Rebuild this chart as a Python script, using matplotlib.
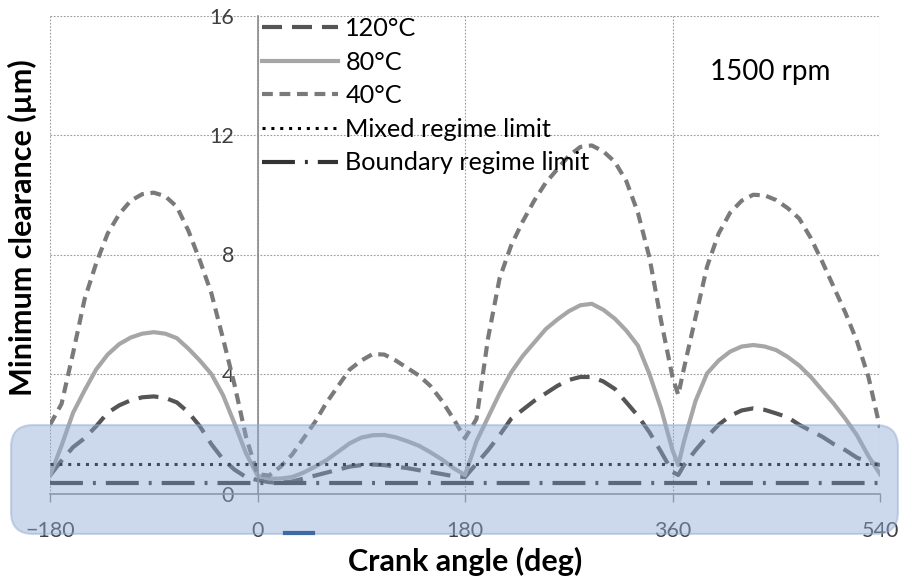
import numpy as np
import matplotlib
matplotlib.use("Agg")
import matplotlib.pyplot as plt
from matplotlib.patches import FancyBboxPatch
from matplotlib.lines import Line2D

plt.rcParams["font.family"] = ["Lato", "DejaVu Sans"]

# crank angle grid (deg), with an extra point at the 365 deg minimum
crank = np.r_[np.arange(-180, 361, 10), 365, np.arange(370, 541, 10)]

h_120 = [0.6, 1.1, 1.55, 1.85, 2.25, 2.7, 2.95, 3.12, 3.22, 3.25,
         3.2, 3.05, 2.72, 2.25, 1.65, 1.15, 0.8, 0.55, 0.45, 0.38,
         0.36, 0.4, 0.5, 0.6, 0.7, 0.8, 0.9, 0.95, 0.97, 0.95,
         0.9, 0.85, 0.78, 0.72, 0.65, 0.58, 0.55, 1.0, 1.45, 1.95,
         2.5, 2.8, 3.1, 3.35, 3.6, 3.8, 3.9, 3.9, 3.75, 3.5,
         3.05, 2.6, 2.05, 1.4, 0.72, 0.62, 0.95, 1.45, 1.9, 2.3,
         2.6, 2.78, 2.85, 2.8, 2.68, 2.55, 2.3, 2.1, 1.9, 1.65,
         1.45, 1.2, 1.05, 0.95]

h_80 = [0.6, 1.6, 2.7, 3.45, 4.15, 4.65, 5.0, 5.22, 5.35, 5.4,
        5.35, 5.2, 4.85, 4.45, 4.0, 3.3, 2.35, 1.35, 0.6, 0.5,
        0.5, 0.55, 0.7, 0.9, 1.12, 1.4, 1.68, 1.87, 1.95, 1.96,
        1.88, 1.75, 1.6, 1.38, 1.14, 0.85, 0.62, 1.75, 2.55, 3.35,
        4.05, 4.6, 5.05, 5.5, 5.82, 6.1, 6.3, 6.35, 6.15, 5.85,
        5.45, 4.95, 4.0, 2.85, 1.45, 0.95, 1.75, 3.1, 4.02, 4.45,
        4.75, 4.92, 4.97, 4.92, 4.8, 4.57, 4.28, 3.9, 3.45, 3.0,
        2.5, 1.95, 1.25, 0.65]

h_40 = [2.3, 3.0, 4.7, 6.5, 7.7, 8.7, 9.35, 9.8, 10.02, 10.07,
        9.95, 9.6, 8.8, 7.8, 6.7, 5.2, 3.65, 1.9, 0.65, 0.6,
        0.9, 1.3, 1.85, 2.4, 3.05, 3.6, 4.15, 4.45, 4.67, 4.65,
        4.45, 4.2, 3.95, 3.6, 3.1, 2.5, 1.85, 2.5, 5.2, 7.2,
        8.3, 9.1, 9.8, 10.4, 10.85, 11.3, 11.6, 11.65, 11.45, 11.1,
        10.45, 9.4, 7.9, 5.8, 3.9, 3.3, 4.2, 5.9, 7.6, 8.7,
        9.4, 9.8, 10.0, 9.98, 9.82, 9.55, 9.2, 8.55, 7.75, 6.9,
        6.05, 5.1, 3.9, 2.2]

mixed_limit = 1.0
boundary_limit = 0.35

x_ticks = [-180, 0, 180, 360, 540]
y_ticks = [0, 4, 8, 12, 16]

fig = plt.figure(figsize=(9.05, 5.78), dpi=100)
ax = fig.add_axes([50 / 905, 84.5 / 578, 830 / 905, 478 / 578])

ax.plot(crank, h_120, color="#555555", lw=3.0, ls=(0, (4.8, 2.4)), label="120°C")
ax.plot(crank, h_80, color="#a6a6a6", lw=3.0, ls="-", label="80°C")
ax.plot(crank, h_40, color="#7a7a7a", lw=3.0, ls=(0, (2.6, 1.6)), label="40°C")
ax.axhline(mixed_limit, color="black", lw=2.2, ls=(0, (1, 1.9)),
           label="Mixed regime limit")
ax.axhline(boundary_limit, color="#333333", lw=3.0, ls=(0, (7.9, 2.4, 0.7, 2.4)),
           label="Boundary regime limit")

ax.set_xlim(-180, 540)
ax.set_ylim(0, 16)
ax.set_xticks(x_ticks)
ax.set_yticks(y_ticks)
ax.grid(True, color="#9a9a9a", lw=0.8, ls=(0, (1.5, 1.5)))
ax.set_axisbelow(True)

for side in ("top", "right"):
    ax.spines[side].set_visible(False)
ax.spines["left"].set_position(("data", 0))
ax.spines["left"].set_color("#8a8a8a")
ax.spines["bottom"].set_color("#8a8a8a")
ax.spines["left"].set_linewidth(1.2)
ax.spines["bottom"].set_linewidth(1.2)

ax.tick_params(axis="x", direction="out", length=6, width=1, color="#8a8a8a",
               pad=14, labelsize=15.5, labelcolor="#404040")
ax.tick_params(axis="y", length=0, pad=17, labelsize=15.5, labelcolor="#404040")

ax.text(445, 14.1, "1500 rpm", fontsize=20, ha="center", va="center")

ax.legend(loc="upper left", bbox_to_anchor=(262 / 905, 1 - 17 / 578),
          bbox_transform=fig.transFigure, frameon=False, fontsize=18.2,
          handlelength=3.0, handletextpad=0.3, labelspacing=0.42,
          borderpad=0, borderaxespad=0)

fig.text(22 / 905, 1 - 228 / 578, "Minimum clearance (µm)", rotation=90,
         fontsize=22, fontweight="bold", ha="center", va="center")
fig.text(465 / 905, 1 - 561 / 578, "Crank angle (deg)", fontsize=22,
         fontweight="bold", ha="center", va="center")

# translucent rounded band over the low-clearance zone
band = FancyBboxPatch((0.11, 0.44), 8.87, 1.09,
                      boxstyle="round,pad=0,rounding_size=0.22",
                      transform=fig.dpi_scale_trans, facecolor="#8eaad4",
                      edgecolor="#8ea9cf", lw=1.5, alpha=0.45, zorder=5)
fig.patches.append(band)
fig.lines.append(Line2D([2.85, 3.13], [0.45, 0.45], transform=fig.dpi_scale_trans,
                        color="#3f6aa6", lw=3, zorder=6))

fig.savefig("out.png", dpi=100)
